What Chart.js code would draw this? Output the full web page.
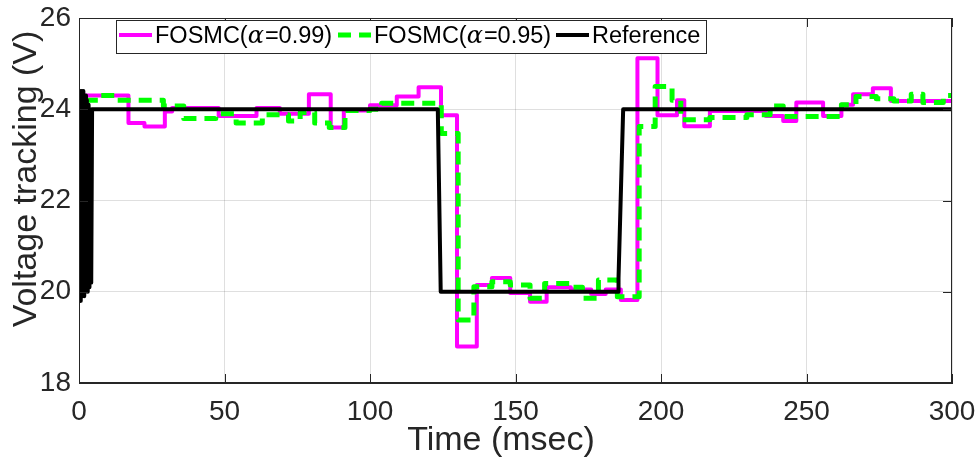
<!DOCTYPE html>
<html>
<head>
<meta charset="utf-8">
<script src="https://cdn.jsdelivr.net/npm/chart.js@4"></script>
<style>
  body { margin: 0; background: #fff; }
  #wrap { width: 976px; height: 462px; }
</style>
</head>
<body>
<div id="wrap"><canvas id="voltChart" width="976" height="462"></canvas></div>
<script>
// tick positions
const xTicks = [0, 50, 100, 150, 200, 250, 300];
const yTicks = [18, 20, 22, 24, 26];

// reference voltage (fast switching at start, then 24 / 20 / 24 V)
const timeRef = [0, 0.3, 0.6, 0.9, 1.2, 1.5, 1.8, 2.1, 2.4, 2.7, 3.0, 3.3, 3.6, 3.9, 4.2, 4.5, 123.3, 124.3, 185.3, 185.4, 187.0, 300];
const voltRef = [19.8, 24.4, 19.8, 24.4, 19.9, 24.4, 19.9, 24.3, 20.0, 24.2, 20.0, 24.1, 20.1, 24.0, 20.2, 24.0, 24.0, 20.0, 20.0, 20.3, 24.0, 24.0];

// FOSMC alpha = 0.99 (step levels, each held until the next time)
const timeA99 = [0, 17, 22.5, 29.5, 32, 48, 61, 69, 79, 86.5, 91, 100, 109.2, 116.7, 124.4, 129.9, 136.7, 141.9, 148.2, 155, 160.7, 169, 176, 181, 186.2, 191.9, 198.8, 205.5, 208, 216.8, 236, 242, 246.5, 255.7, 262, 266, 272.8, 279, 300];
const voltA99 = [24.3, 23.7, 23.62, 23.95, 24.03, 23.85, 24.03, 23.9, 24.33, 23.6, 23.97, 24.09, 24.28, 24.48, 23.87, 18.8, 20.15, 20.3, 19.97, 19.78, 20.1, 20.05, 19.95, 20.05, 19.82, 25.12, 23.87, 24.2, 23.63, 23.96, 23.85, 23.74, 24.15, 23.85, 24.1, 24.33, 24.46, 24.18, 24.18];

// FOSMC alpha = 0.95
const timeA95 = [2, 7, 13, 29, 36, 47, 54, 63, 72, 76, 81, 86, 91.4, 100, 104, 124.5, 130.3, 135.7, 141.9, 148.2, 155, 160, 168.7, 173, 178.5, 185, 192.5, 198, 203.8, 206.8, 216.8, 229.5, 237.5, 242, 262, 267, 274, 280, 286, 290, 297, 300];
const voltA95 = [24.2, 24.3, 24.2, 24.07, 23.8, 23.9, 23.7, 23.88, 23.74, 23.93, 23.7, 23.6, 23.97, 24.0, 24.13, 23.47, 19.38, 20.11, 20.22, 20.15, 19.86, 20.18, 20.1, 19.86, 20.26, 19.89, 23.62, 24.5, 24.2, 23.77, 23.82, 23.88, 24.07, 23.84, 24.1, 24.28, 24.23, 24.18, 24.33, 24.15, 24.3, 24.3];

const legendNames = ['FOSMC(', 'FOSMC(', 'Reference'];
const legendAlpha = ['=0.99)', '=0.95)', ''];
const xTitle = 'Time (msec)';
const yTitle = 'Voltage tracking (V)';

const axisColor = '#262626';
const sansFont = '"Liberation Sans", Arial, sans-serif';
const pts = (ts, vs) => ts.map((t, i) => ({ x: t, y: vs[i] }));

// box on top/right plus inward tick marks, like the original figure
const framePlugin = {
    id: 'frame',
    afterDatasetsDraw(chart) {
        const { ctx, chartArea: a, scales } = chart;
        ctx.save();
        ctx.strokeStyle = axisColor;
        ctx.lineWidth = 1;
        ctx.strokeRect(a.left + 0.5, a.top + 0.5, a.right - a.left - 1, a.bottom - a.top - 1);
        ctx.beginPath();
        xTicks.forEach(v => {
            const px = Math.round(scales.x.getPixelForValue(v)) + 0.5;
            ctx.moveTo(px, a.bottom); ctx.lineTo(px, a.bottom - 9);
            ctx.moveTo(px, a.top); ctx.lineTo(px, a.top + 9);
        });
        yTicks.forEach(v => {
            const py = Math.round(scales.y.getPixelForValue(v)) + 0.5;
            ctx.moveTo(a.left, py); ctx.lineTo(a.left + 9, py);
            ctx.moveTo(a.right, py); ctx.lineTo(a.right - 9, py);
        });
        ctx.stroke();

        // axis titles (both sit a bit off-centre in the original)
        ctx.fillStyle = axisColor;
        ctx.font = '34px ' + sansFont;
        ctx.textAlign = 'center';
        ctx.textBaseline = 'middle';
        ctx.fillText(xTitle, 501, 440.6);
        ctx.save();
        ctx.translate(27, 179);
        ctx.rotate(-Math.PI / 2);
        ctx.fillText(yTitle, 0, 0);
        ctx.restore();
        ctx.restore();
    },
    afterDraw(chart) {
        // legend box drawn inside the plot, top-left
        const ctx = chart.ctx;
        const box = { x: 116, y: 20, w: 590, h: 33 };
        const starts = [119, 338, 556];
        ctx.save();
        ctx.fillStyle = '#fff';
        ctx.fillRect(box.x, box.y, box.w, box.h);
        ctx.strokeStyle = axisColor;
        ctx.lineWidth = 1;
        ctx.strokeRect(box.x + 0.5, box.y + 0.5, box.w, box.h);
        chart.data.datasets.forEach((ds, i) => {
            const lx = starts[i];
            const ly = 35;
            ctx.beginPath();
            ctx.strokeStyle = ds.borderColor;
            ctx.lineWidth = ds.borderWidth;
            ctx.setLineDash(ds.borderDash || []);
            ctx.lineCap = 'butt';
            ctx.moveTo(lx, ly); ctx.lineTo(lx + 33, ly);
            ctx.stroke();
            ctx.setLineDash([]);
            let tx = lx + 36;
            ctx.fillStyle = '#000';
            ctx.textBaseline = 'middle';
            ctx.font = '23.5px ' + sansFont;
            ctx.fillText(legendNames[i], tx, 37);
            tx += ctx.measureText(legendNames[i]).width;
            if (legendAlpha[i]) {
                ctx.font = 'italic 24px "DejaVu Serif", "Liberation Serif", serif';
                ctx.fillText('\u03b1', tx, 37);
                tx += ctx.measureText('\u03b1').width + 1;
                ctx.font = '23.5px ' + sansFont;
                ctx.fillText(legendAlpha[i], tx, 37);
            }
        });
        ctx.restore();
    }
};

new Chart(document.getElementById('voltChart'), {
    type: 'line',
    data: {
        datasets: [
            {
                label: 'FOSMC(\u03b1=0.99)',
                data: pts(timeA99, voltA99),
                borderColor: '#ff00ff',
                borderWidth: 4,
                stepped: true,
                order: 3
            },
            {
                label: 'FOSMC(\u03b1=0.95)',
                data: pts(timeA95, voltA95),
                borderColor: '#00ff00',
                borderWidth: 5,
                borderDash: [13, 8],
                stepped: true,
                order: 2
            },
            {
                label: 'Reference',
                data: pts(timeRef, voltRef),
                borderColor: '#000000',
                borderWidth: 4,
                order: 1
            }
        ]
    },
    options: {
        responsive: false,
        animation: false,
        events: [],
        layout: { padding: { top: 18, right: 24, left: 0, bottom: 0 } },
        elements: {
            point: { radius: 0 },
            line: { borderJoinStyle: 'round', tension: 0, fill: false }
        },
        plugins: { legend: { display: false }, tooltip: { enabled: false } },
        scales: {
            x: {
                type: 'linear',
                min: 0, max: 300,
                afterBuildTicks: s => { s.ticks = xTicks.map(v => ({ value: v })); },
                afterFit: s => { s.height = 79; s.paddingLeft = 0; s.paddingRight = 0; },
                grid: { color: 'rgba(38,38,38,0.15)', drawTicks: false },
                border: { color: axisColor, width: 1 },
                ticks: { color: axisColor, padding: 12, maxRotation: 0, font: { family: sansFont, size: 28 } },
                title: { display: false }
            },
            y: {
                min: 18, max: 26,
                afterBuildTicks: s => { s.ticks = yTicks.map(v => ({ value: v })); },
                afterFit: s => { s.width = 79; s.paddingTop = 0; s.paddingBottom = 0; },
                grid: { color: 'rgba(38,38,38,0.15)', drawTicks: false },
                border: { color: axisColor, width: 1 },
                ticks: { color: axisColor, padding: 8, font: { family: sansFont, size: 28 } },
                title: { display: false }
            }
        }
    },
    plugins: [framePlugin]
});
</script>
</body>
</html>
